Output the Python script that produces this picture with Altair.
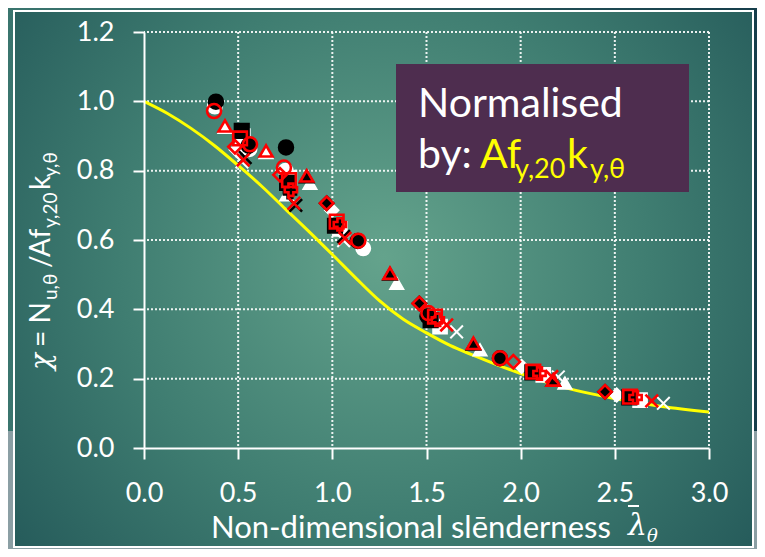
import altair as alt
import pandas as pd

# ---------------- data ----------------
x_ticks = [0.0, 0.5, 1.0, 1.5, 2.0, 2.5, 3.0]
y_ticks = [0.0, 0.2, 0.4, 0.6, 0.8, 1.0, 1.2]
grid_x = [0.5, 1.0, 1.5, 2.0, 2.5, 3.0]
grid_y = [0.2, 0.4, 0.6, 0.8, 1.0, 1.2]

curve_x = [0.0, 0.125, 0.25, 0.375, 0.5, 0.625, 0.75, 0.875, 1.0, 1.125, 1.25,
           1.375, 1.5, 1.625, 1.75, 1.875, 2.0, 2.25, 2.5, 2.75, 3.0]
curve_y = [1.0, 0.965, 0.922, 0.872, 0.815, 0.755, 0.69, 0.625, 0.558, 0.49, 0.425,
           0.372, 0.332, 0.296, 0.267, 0.24, 0.215, 0.172, 0.143, 0.12, 0.104]

black_x = [0.382, 0.519, 0.556, 0.537, 0.754, 0.76, 0.775, 0.864, 0.806, 0.97, 1.014,
           1.06, 1.135, 1.306, 1.462, 1.505, 1.522, 1.749, 1.89, 2.062, 2.173, 2.448, 2.577]
black_y = [0.999, 0.915, 0.872, 0.838, 0.867, 0.765, 0.738, 0.783, 0.700, 0.706, 0.641,
           0.610, 0.597, 0.502, 0.417, 0.380, 0.369, 0.300, 0.259, 0.218, 0.196, 0.162, 0.146]
black_shape = ["circle", "square", "circle", "x", "circle", "square", "plus", "triangle", "x",
               "diamond", "square", "x", "circle", "triangle", "diamond", "circle", "square",
               "triangle", "circle", "square", "triangle", "diamond", "square"]

white_x = [0.376, 0.43, 0.525, 0.56, 0.49, 0.52, 0.648, 0.752, 0.772, 0.758, 0.881, 0.997,
           1.04, 1.06, 1.164, 1.342, 1.525, 1.572, 1.66, 1.784, 2.005, 2.12, 2.235, 2.2,
           2.51, 2.634, 2.758]
white_y = [0.985, 0.925, 0.900, 0.862, 0.860, 0.825, 0.852, 0.800, 0.780, 0.730, 0.763, 0.686,
           0.632, 0.598, 0.576, 0.475, 0.378, 0.350, 0.335, 0.283, 0.235, 0.211, 0.187, 0.205,
           0.153, 0.138, 0.129]
white_shape = ["circle", "triangle", "square", "circle", "diamond", "x", "triangle", "circle",
               "square", "triangle", "triangle", "diamond", "square", "x", "circle", "triangle",
               "circle", "square", "x", "triangle", "diamond", "square", "triangle", "x",
               "diamond", "square", "x"]

red_x = [0.372, 0.43, 0.51, 0.483, 0.563, 0.527, 0.648, 0.743, 0.722, 0.77, 0.78, 0.864,
         0.796, 0.97, 1.023, 1.04, 1.067, 1.138, 1.306, 1.462, 1.51, 1.545, 1.56, 1.607,
         1.749, 1.89, 1.961, 2.067, 2.1, 2.165, 2.173, 2.448, 2.581, 2.61, 2.696]
red_y = [0.972, 0.929, 0.893, 0.869, 0.876, 0.831, 0.857, 0.809, 0.788, 0.773, 0.745, 0.785,
         0.706, 0.706, 0.653, 0.645, 0.605, 0.598, 0.504, 0.417, 0.389, 0.379, 0.370, 0.355,
         0.302, 0.259, 0.249, 0.220, 0.215, 0.206, 0.196, 0.162, 0.148, 0.146, 0.136]
red_shape = ["circle", "triangle", "square", "diamond", "circle", "x", "triangle", "circle",
             "diamond", "square", "plus", "triangle", "x", "diamond", "square", "plus", "x",
             "circle", "triangle", "diamond", "circle", "square", "plus", "x", "triangle",
             "circle", "diamond", "square", "plus", "x", "triangle", "diamond", "square",
             "plus", "x"]

# ---------------- styling ----------------
FONT = "Lato"
W, H = 565, 416
shape_names = ["circle", "square", "diamond", "triangle", "x", "plus"]
shape_paths = ["circle", "square", "diamond", "triangle-up",
               "M-1,-1L1,1M-1,1L1,-1", "cross"]
fill_sizes = [196, 150, 240, 256, 170, 150]
red_sizes = [165, 145, 225, 310, 165, 130]

xs = alt.Scale(domain=[0, 3], nice=False, zero=False)
ys = alt.Scale(domain=[0, 1.2], nice=False, zero=False)
axis_common = dict(title=None, grid=False, zindex=1, labelFont=FONT, labelFontSize=27,
                   labelColor="white", tickColor="white", tickSize=11, tickWidth=2,
                   domainColor="white", domainWidth=2, format=".1f",
                   labelOverlap=False, labelFlush=False)
xaxis = alt.Axis(values=x_ticks, labelPadding=21, **axis_common)
yaxis = alt.Axis(values=y_ticks, labelPadding=19, **axis_common)


def X(f):
    return alt.X(f, type="quantitative", scale=xs, axis=xaxis)


def Y(f):
    return alt.Y(f, type="quantitative", scale=ys, axis=yaxis)


one = pd.DataFrame({"a": [0]})

# background of the surrounding slide strip
band = alt.Chart(one).mark_rect(
    fill=alt.LinearGradient(gradient="linear", x1=0, y1=0, x2=1, y2=0,
                            stops=[alt.GradientStop(offset=0, color="#3a756e"),
                                   alt.GradientStop(offset=1, color="#163e4b")])
).encode(x=alt.value(-136), x2=alt.value(613), y=alt.value(-24), y2=alt.value(399))

frame = alt.Chart(one).mark_rect(
    fill=alt.RadialGradient(gradient="radial", x1=0.5, y1=0.47, r1=0, x2=0.5, y2=0.47, r2=0.72,
                            stops=[alt.GradientStop(offset=0, color="#64a38c"),
                                   alt.GradientStop(offset=0.5, color="#3f7d71"),
                                   alt.GradientStop(offset=1, color="#1e5154")]),
    stroke="white", strokeWidth=2
).encode(x=alt.value(-130), x2=alt.value(609), y=alt.value(-21), y2=alt.value(515))

grid_style = dict(color="white", strokeDash=[2, 2], strokeWidth=2, opacity=0.9)
vgrid = alt.Chart(pd.DataFrame({"gx": grid_x})).mark_rule(**grid_style).encode(x=X("gx"))
hgrid = alt.Chart(pd.DataFrame({"gy": grid_y})).mark_rule(**grid_style).encode(y=Y("gy"))

curve = alt.Chart(pd.DataFrame({"x": curve_x, "y": curve_y})).mark_line(
    color="#ffff00", strokeWidth=3, interpolate="monotone"
).encode(x=X("x"), y=Y("y"))


def points(xv, yv, sv, sizes, **mark):
    df = pd.DataFrame({"x": xv, "y": yv, "shape": sv})
    return alt.Chart(df).mark_point(opacity=1, **mark).encode(
        x=X("x"), y=Y("y"),
        shape=alt.Shape("shape:N", scale=alt.Scale(domain=shape_names, range=shape_paths),
                        legend=None),
        size=alt.Size("shape:O", scale=alt.Scale(domain=shape_names, range=sizes), legend=None),
    )


white_pts = points(white_x, white_y, white_shape, fill_sizes, filled=True, fill="white",
                   stroke="white", strokeWidth=2)
black_pts = points(black_x, black_y, black_shape, fill_sizes, filled=True, fill="black",
                   stroke="black", strokeWidth=2.5)
red_pts = points(red_x, red_y, red_shape, red_sizes, filled=False, stroke="#ff0000",
                 strokeWidth=2.6)


def txt(s, px, py, size, color="white", **kw):
    return alt.Chart(one).mark_text(text=s, fontSize=size, color=color, align="left",
                                    baseline="alphabetic", **kw).encode(
        x=alt.value(px), y=alt.value(py))


box = alt.Chart(one).mark_rect(fill="#4e2d4f").encode(
    x=alt.value(252), x2=alt.value(545), y=alt.value(32), y2=alt.value(160))

texts = [
    txt("Normalised", 274, 85, 41, font=FONT),
    txt("by:", 274, 136, 41, font=FONT),
    txt("Af", 336, 136, 41, color="#ffff00", font=FONT),
    txt("y,20", 371, 146, 27, color="#ffff00", font=FONT),
    txt("k", 423, 136, 41, color="#ffff00", font=FONT),
    txt("y,θ", 446, 146, 27, color="#ffff00", font=FONT),
    # x-axis title
    txt("Non-dimensional slēnderness", 67, 506, 31, font=FONT),
    txt("λ", 484, 503, 30, font="DejaVu Serif", fontStyle="italic"),
    txt("θ", 503, 510, 18, font="DejaVu Serif", fontStyle="italic"),
    # y-axis title (rotated)
    txt("χ", -94, 338, 28, font="DejaVu Serif", fontStyle="italic", angle=270),
    txt("= N", -94, 315, 28, font=FONT, angle=270),
    txt("u,θ", -87, 268, 19, font=FONT, angle=270),
    txt("/Af", -94, 236, 28, font=FONT, angle=270),
    txt("y,20", -87, 196, 19, font=FONT, angle=270),
    txt("k", -94, 158, 28, font=FONT, angle=270),
    txt("y,θ", -87, 145, 19, font=FONT, angle=270),
]

macron = alt.Chart(one).mark_rule(color="white", strokeWidth=2).encode(
    x=alt.value(484), x2=alt.value(495), y=alt.value(474))

chart = alt.layer(
    band, frame, vgrid, hgrid, curve, white_pts, black_pts, red_pts, box, macron, *texts
).properties(
    width=W, height=H,
    autosize=alt.AutoSizeParams(type="none"),
    padding={"left": 136, "top": 24, "right": 48, "bottom": 101},
).configure(background="#8b9fa4").configure_view(stroke=None)

chart.save("out.html", embed_options={"renderer": "svg", "actions": False})
